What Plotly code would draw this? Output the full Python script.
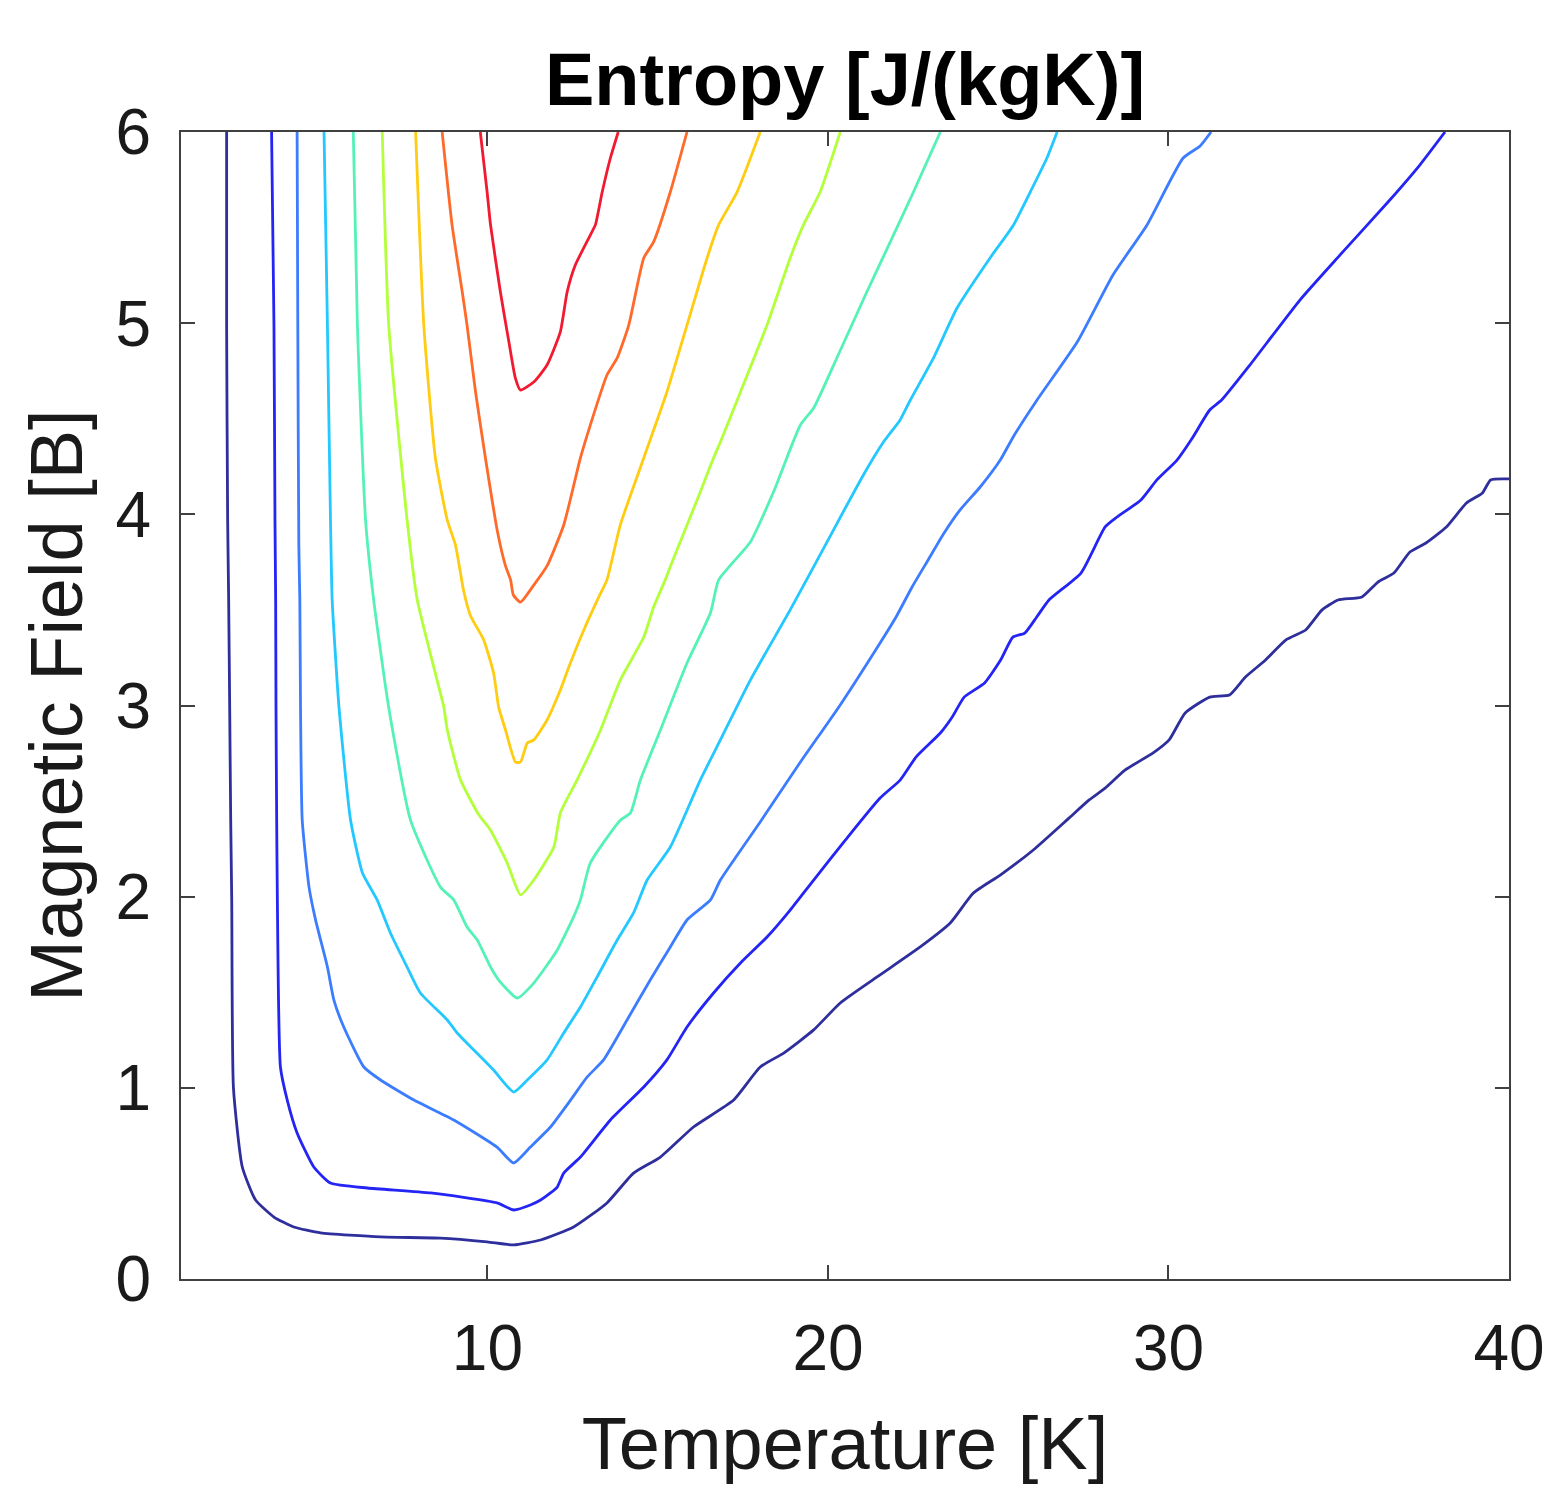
import plotly.graph_objects as go

# ---- Data (Temperature [K], Magnetic Field [B]) ----
# contour lines from lowest entropy level (outer) to highest (inner)
t_lvl1 = [2.34, 2.34, 2.37, 2.40, 2.43, 2.46, 2.49, 2.54, 2.80, 3.19, 3.73, 4.31, 5.10, 6.86, 8.62, 9.99, 10.77, 11.56, 12.53, 13.51, 14.29, 15.08, 16.05, 17.23, 18.01, 18.70, 19.58, 20.36, 21.44, 22.71, 23.59, 24.27, 25.06, 26.03, 27.08, 27.67, 28.14, 28.73, 29.55, 30.02, 30.49, 31.21, 31.79, 32.26, 32.85, 33.45, 34.03, 34.51, 34.98, 35.68, 36.15, 36.62, 37.09, 37.56, 38.16, 38.75, 39.22, 39.46, 40.0]
b_lvl1 = [6.0, 4.99, 3.97, 3.55, 2.99, 2.40, 1.98, 1.00, 0.586, 0.413, 0.324, 0.272, 0.241, 0.220, 0.214, 0.194, 0.178, 0.204, 0.272, 0.398, 0.554, 0.638, 0.795, 0.936, 1.109, 1.182, 1.303, 1.444, 1.580, 1.737, 1.862, 2.019, 2.113, 2.244, 2.411, 2.506, 2.568, 2.663, 2.752, 2.820, 2.961, 3.044, 3.055, 3.149, 3.238, 3.343, 3.395, 3.500, 3.552, 3.568, 3.646, 3.693, 3.803, 3.850, 3.934, 4.059, 4.112, 4.180, 4.185]

t_lvl2 = [3.66, 3.73, 3.76, 3.78, 3.79, 3.81, 3.83, 3.92, 4.12, 4.41, 4.90, 5.39, 6.47, 8.33, 10.28, 10.77, 11.26, 11.56, 11.85, 12.05, 12.24, 12.73, 13.61, 14.59, 15.27, 15.86, 16.64, 17.43, 18.21, 18.89, 19.58, 20.51, 21.53, 22.12, 22.59, 23.30, 23.65, 24.00, 24.60, 25.07, 25.43, 25.78, 26.13, 26.49, 27.43, 28.14, 28.49, 29.19, 29.66, 30.25, 30.72, 31.21, 31.56, 32.39, 33.86, 35.04, 36.50, 37.38, 38.12]
b_lvl2 = [6.0, 4.99, 3.97, 3.55, 2.99, 2.40, 1.98, 1.109, 0.936, 0.764, 0.586, 0.502, 0.476, 0.450, 0.398, 0.361, 0.387, 0.413, 0.450, 0.481, 0.554, 0.638, 0.832, 1.004, 1.146, 1.318, 1.496, 1.653, 1.789, 1.930, 2.087, 2.296, 2.516, 2.610, 2.731, 2.856, 2.940, 3.044, 3.118, 3.238, 3.358, 3.379, 3.463, 3.552, 3.693, 3.934, 3.986, 4.075, 4.180, 4.284, 4.405, 4.546, 4.598, 4.781, 5.121, 5.357, 5.644, 5.827, 6.0]

t_lvl3 = [4.41, 4.43, 4.46, 4.49, 4.51, 4.56, 4.76, 4.95, 5.30, 5.49, 5.78, 6.37, 6.86, 7.84, 9.01, 10.28, 10.77, 11.26, 11.85, 12.44, 12.93, 13.41, 14.10, 14.78, 15.37, 15.86, 16.55, 16.84, 18.01, 19.19, 20.36, 21.53, 22.00, 22.47, 22.94, 23.41, 23.88, 24.47, 25.06, 25.44, 26.14, 27.32, 28.37, 29.37, 30.43, 30.93, 31.25]
b_lvl3 = [6.0, 4.99, 3.84, 3.55, 2.99, 2.40, 2.05, 1.88, 1.632, 1.459, 1.318, 1.109, 1.041, 0.936, 0.832, 0.690, 0.607, 0.690, 0.795, 0.936, 1.057, 1.146, 1.355, 1.564, 1.737, 1.878, 1.983, 2.087, 2.391, 2.704, 3.003, 3.327, 3.463, 3.620, 3.761, 3.902, 4.023, 4.143, 4.284, 4.405, 4.598, 4.901, 5.252, 5.514, 5.864, 5.927, 6.0]

t_lvl4 = [5.20, 5.30, 5.39, 5.44, 5.64, 5.98, 6.33, 6.76, 7.15, 7.64, 8.03, 8.82, 9.11, 9.60, 10.18, 10.77, 11.17, 11.75, 12.24, 12.73, 13.22, 13.81, 14.29, 14.69, 15.37, 16.25, 16.84, 17.72, 18.89, 19.97, 21.04, 21.63, 22.12, 22.42, 23.10, 23.79, 24.76, 25.45, 25.94, 26.43, 26.73]
b_lvl4 = [6.0, 4.99, 3.97, 3.55, 2.99, 2.40, 2.124, 1.983, 1.810, 1.632, 1.496, 1.355, 1.287, 1.198, 1.093, 0.978, 1.041, 1.146, 1.287, 1.423, 1.580, 1.773, 1.915, 2.087, 2.260, 2.610, 2.820, 3.133, 3.500, 3.855, 4.206, 4.378, 4.494, 4.598, 4.818, 5.079, 5.341, 5.514, 5.686, 5.864, 6.0]

t_lvl5 = [6.06, 6.18, 6.42, 6.66, 7.10, 7.74, 8.62, 9.01, 9.40, 9.70, 10.09, 10.33, 10.87, 11.36, 12.05, 12.53, 12.73, 13.02, 13.90, 14.20, 14.49, 15.08, 15.86, 16.55, 16.79, 17.72, 18.40, 19.19, 19.58, 20.26, 21.14, 21.83, 22.51, 23.30]
b_lvl5 = [6.0, 4.99, 3.97, 3.55, 2.99, 2.40, 2.05, 1.983, 1.841, 1.773, 1.632, 1.564, 1.470, 1.548, 1.721, 1.894, 1.983, 2.176, 2.40, 2.438, 2.610, 2.872, 3.222, 3.485, 3.657, 3.855, 4.117, 4.467, 4.556, 4.818, 5.163, 5.425, 5.686, 6.0]

t_lvl6 = [6.91, 7.10, 7.64, 7.94, 8.52, 8.72, 8.82, 9.21, 9.74, 10.09, 10.58, 10.97, 11.36, 11.95, 12.14, 12.63, 13.32, 13.90, 14.59, 14.88, 15.22, 15.47, 15.66, 16.25, 16.64, 16.84, 17.43, 18.21, 18.89, 19.28, 19.77, 20.36]
b_lvl6 = [6.0, 4.99, 3.97, 3.55, 3.133, 2.99, 2.872, 2.610, 2.43, 2.348, 2.176, 2.009, 2.087, 2.260, 2.438, 2.610, 2.872, 3.133, 3.358, 3.515, 3.657, 3.772, 3.855, 4.117, 4.295, 4.378, 4.640, 4.990, 5.341, 5.514, 5.686, 6.0]

t_lvl7 = [7.89, 8.13, 8.47, 8.82, 9.06, 9.30, 9.50, 9.89, 10.18, 10.33, 10.53, 10.82, 10.97, 11.17, 11.36, 11.75, 12.14, 12.39, 12.83, 13.27, 13.51, 13.90, 14.59, 15.27, 15.86, 16.15, 16.45, 16.79, 17.33, 18.01]
b_lvl7 = [6.0, 4.99, 4.295, 3.97, 3.84, 3.60, 3.47, 3.343, 3.170, 2.99, 2.872, 2.704, 2.704, 2.804, 2.820, 2.924, 3.081, 3.201, 3.395, 3.568, 3.657, 3.944, 4.295, 4.640, 4.990, 5.163, 5.341, 5.514, 5.686, 6.0]

t_lvl8 = [8.67, 8.96, 9.26, 9.40, 9.65, 9.94, 10.29, 10.53, 10.68, 10.76, 10.97, 11.36, 11.75, 12.24, 12.73, 13.02, 13.51, 13.81, 14.15, 14.59, 14.88, 15.37, 15.86]
b_lvl8 = [6.0, 5.514, 5.163, 4.990, 4.640, 4.295, 3.913, 3.730, 3.657, 3.578, 3.541, 3.630, 3.730, 3.944, 4.295, 4.467, 4.729, 4.818, 4.990, 5.341, 5.425, 5.686, 6.0]

t_lvl9 = [9.79, 9.99, 10.09, 10.38, 10.63, 10.82, 10.97, 11.36, 11.75, 12.14, 12.34, 12.58, 13.02, 13.17, 13.37, 13.61, 13.84]
b_lvl9 = [6.0, 5.686, 5.514, 5.163, 4.901, 4.713, 4.650, 4.692, 4.781, 4.954, 5.163, 5.304, 5.461, 5.514, 5.686, 5.864, 6.0]

x_ticks = [10, 20, 30, 40]
y_ticks = [0, 1, 2, 3, 4, 5, 6]

title_text = "Entropy [J/(kgK)]"
x_title = "Temperature [K]"
y_title = "Magnetic Field [B]"

# ---- Styling ----
levels = [
    (t_lvl1, b_lvl1, "#2e2e9c"),
    (t_lvl2, b_lvl2, "#2424f4"),
    (t_lvl3, b_lvl3, "#3c7cff"),
    (t_lvl4, b_lvl4, "#22c8ff"),
    (t_lvl5, b_lvl5, "#55f2b8"),
    (t_lvl6, b_lvl6, "#b2ff3a"),
    (t_lvl7, b_lvl7, "#ffcc12"),
    (t_lvl8, b_lvl8, "#ff6a2a"),
    (t_lvl9, b_lvl9, "#f21a30"),
]

FONT = "Liberation Sans, Arial, Helvetica, sans-serif"
AXC = "#404040"
W, H = 1542, 1485  # page body adds an 8px offset

fig = go.Figure()
for i, (tx, by, col) in enumerate(levels):
    fig.add_trace(go.Scatter(
        x=tx, y=by, mode="lines",
        line=dict(color=col, width=2.8, shape="spline", smoothing=0.5),
        name=f"level {i+1}", showlegend=False,
        hoverinfo="x+y",
    ))

fig.update_layout(
    width=W, height=H,
    margin=dict(l=173, r=41, t=124, b=214, autoexpand=False),
    paper_bgcolor="white", plot_bgcolor="white",
    title=dict(text=f"<b>{title_text}</b>", x=0.5, xref="paper",
               y=1 - 71 / H, yref="container", yanchor="middle",
               font=dict(family=FONT, size=74, color="#000000")),
    showlegend=False,
)
fig.update_xaxes(
    range=[1, 40], tickvals=x_ticks, ticktext=[str(v) for v in x_ticks],
    ticks="inside", ticklen=14, tickwidth=2, tickcolor=AXC,
    showline=True, linecolor=AXC, linewidth=2, mirror="allticks",
    showgrid=False, zeroline=False, automargin=False,
    tickfont=dict(family=FONT, size=64, color="#1a1a1a"),
    ticklabelstandoff=12,
    title=dict(text=x_title, font=dict(family=FONT, size=74, color="#1a1a1a"), standoff=34),
)
fig.update_yaxes(
    range=[0, 6], tickvals=y_ticks, ticktext=[str(v) for v in y_ticks],
    ticks="inside", ticklen=14, tickwidth=2, tickcolor=AXC,
    showline=True, linecolor=AXC, linewidth=2, mirror="allticks",
    showgrid=False, zeroline=False, automargin=False,
    tickfont=dict(family=FONT, size=64, color="#1a1a1a"),
    ticklabelstandoff=15,
    title=dict(text=y_title, font=dict(family=FONT, size=74, color="#1a1a1a"), standoff=9),
)

fig.write_html("out.html")
